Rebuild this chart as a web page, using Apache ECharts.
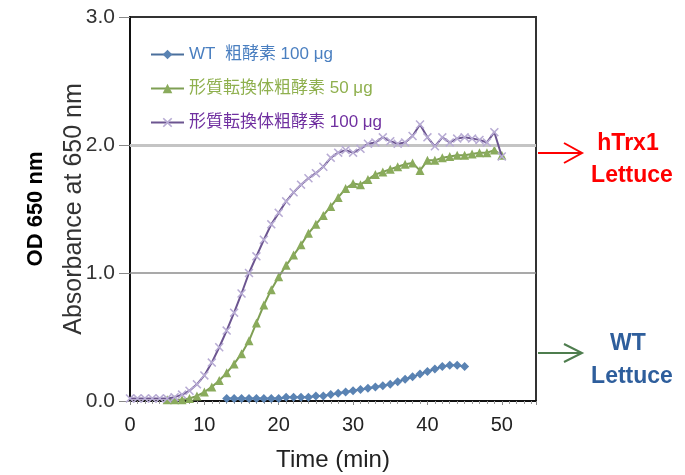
<!DOCTYPE html>
<html><head><meta charset="utf-8">
<script src="https://cdn.jsdelivr.net/npm/echarts@6/dist/echarts.min.js"></script>
<style>html,body{margin:0;padding:0;background:#fff}#c{width:685px;height:475px}</style>
</head><body><div id="c"></div>
<script>
var seriesNames = ['WT  粗酵素 100 μg', '形質転換体粗酵素 50 μg', '形質転換体粗酵素 100 μg'];
var xTicks = [0, 10, 20, 30, 40, 50];
var yTicks = [0, 1, 2, 3];

var wtTime = [13,14,15,16,17,18,19,20,21,22,23,24,25,26,27,28,29,30,31,32,33,34,35,36,37,38,39,40,41,42,43,44,45];
var wtVal  = [0.02,0.02,0.02,0.02,0.02,0.02,0.02,0.02,0.03,0.03,0.03,0.03,0.04,0.04,0.05,0.06,0.07,0.08,0.09,0.10,0.11,0.12,0.13,0.15,0.17,0.19,0.21,0.23,0.25,0.27,0.28,0.28,0.27];

var tr50Time = [5,6,7,8,9,10,11,12,13,14,15,16,17,18,19,20,21,22,23,24,25,26,27,28,29,30,31,32,33,34,35,36,37,38,39,40,41,42,43,44,45,46,47,48,49,50];
var tr50Val  = [0.01,0.01,0.01,0.02,0.04,0.07,0.11,0.16,0.22,0.29,0.37,0.47,0.61,0.75,0.87,0.97,1.06,1.14,1.22,1.31,1.38,1.45,1.52,1.59,1.66,1.70,1.69,1.73,1.77,1.79,1.81,1.83,1.85,1.86,1.80,1.88,1.88,1.90,1.91,1.92,1.92,1.93,1.94,1.94,1.96,1.92];

var tr100Time = [0,1,2,3,4,5,6,7,8,9,10,11,12,13,14,15,16,17,18,19,20,21,22,23,24,25,26,27,28,29,30,31,32,33,34,35,36,37,38,39,40,41,42,43,44,45,46,47,48,49,50];
var tr100Val  = [0.02,0.02,0.02,0.02,0.02,0.02,0.03,0.05,0.08,0.13,0.20,0.30,0.42,0.55,0.69,0.84,1.00,1.13,1.26,1.38,1.47,1.56,1.63,1.69,1.74,1.78,1.83,1.90,1.94,1.96,1.94,1.97,2.01,2.02,2.06,2.03,2.01,2.02,2.07,2.16,2.06,1.99,2.06,2.02,2.05,2.06,2.05,2.04,2.02,2.10,1.91];

var refLines = [1.0, 2.0];

function pairs(xs, ys){ return xs.map(function(x,i){ return [x, ys[i]]; }); }

var FONT = 'Arial, "Liberation Sans", "Noto Sans CJK JP", sans-serif';
var xSym = 'path://M0,1.2L1.2,0L5,3.8L8.8,0L10,1.2L6.2,5L10,8.8L8.8,10L5,6.2L1.2,10L0,8.8L3.8,5Z';

var chart = echarts.init(document.getElementById('c'));
chart.setOption({
  backgroundColor: '#fff',
  animation: false,
  textStyle: { fontFamily: FONT },
  grid: { left: 130, top: 17, right: 149, bottom: 74, show: true, borderColor: '#333', borderWidth: 2, backgroundColor: 'transparent', outerBoundsMode: 'none', containLabel: false },
  legend: {
    orient: 'vertical', left: 145, top: 41, itemGap: 17, itemWidth: 33, itemHeight: 12,
    textStyle: { fontFamily: FONT, fontSize: 17 },
    data: [
      { name: seriesNames[0], textStyle: { color: '#4a7fc0' } },
      { name: seriesNames[1], textStyle: { color: '#8fb04e' } },
      { name: seriesNames[2], textStyle: { color: '#7030a0' } }
    ]
  },
  xAxis: {
    type: 'value', min: 0, max: 54.6, interval: 10,
    name: 'Time (min)', nameLocation: 'middle', nameGap: 47, nameMoveOverlap: false,
    nameTextStyle: { fontSize: 24, color: '#222', fontFamily: FONT },
    axisLine: { lineStyle: { color: '#111', width: 2 } },
    axisTick: { show: true, length: 4, lineStyle: { color: '#888' } },
    minorTick: { show: true, splitNumber: 10, length: 3, lineStyle: { color: '#999' } },
    splitLine: { show: false },
    axisLabel: { fontSize: 20, color: '#222', margin: 14,
      formatter: function(v){ return xTicks.indexOf(v) >= 0 ? String(v) : ''; } }
  },
  yAxis: {
    type: 'value', min: 0, max: 3, interval: 1,
    name: 'Absorbance at 650 nm', nameLocation: 'middle', nameGap: 43, nameMoveOverlap: false,
    nameTextStyle: { fontSize: 25, color: '#333', fontFamily: FONT },
    axisLine: { show: true, lineStyle: { color: '#111', width: 2 } },
    axisTick: { show: true, length: 11, lineStyle: { color: '#888' } },
    splitLine: { show: false },
    axisLabel: { fontSize: 21, color: '#333', margin: 15,
      formatter: function(v){ return yTicks.indexOf(v) >= 0 ? v.toFixed(1) : ''; } }
  },
  series: [
    {
      name: seriesNames[0], type: 'line', data: pairs(wtTime, wtVal),
      symbol: 'diamond', symbolSize: 9, showAllSymbol: true,
      itemStyle: { color: '#5a83b3' }, lineStyle: { color: '#4a6f9c', width: 2 },
      markLine: {
        silent: true, symbol: 'none', label: { show: false },
        data: [
          { yAxis: refLines[0], lineStyle: { color: '#8c8c8c', width: 1.5, type: 'solid' } },
          { yAxis: refLines[1], lineStyle: { color: '#c4c4c4', width: 3, type: 'solid' } }
        ]
      },
      z: 3
    },
    {
      name: seriesNames[1], type: 'line', data: pairs(tr50Time, tr50Val),
      symbol: 'triangle', symbolSize: 9, showAllSymbol: true,
      itemStyle: { color: '#8aab5c' }, lineStyle: { color: '#7f9f54', width: 2 },
      z: 4
    },
    {
      name: seriesNames[2], type: 'line', data: pairs(tr100Time, tr100Val),
      symbol: xSym, symbolSize: 9, showAllSymbol: true,
      itemStyle: { color: '#b8acd4' }, lineStyle: { color: '#6c5590', width: 2 },
      z: 5
    }
  ],
  graphic: [
    { type: 'text', x: 36, y: 209, rotation: Math.PI / 2,
      style: { text: 'OD 650 nm', font: 'bold 22px ' + FONT, fill: '#000', textAlign: 'center', textVerticalAlign: 'middle' } },
    { type: 'line', shape: { x1: 538, y1: 153, x2: 582, y2: 153 }, style: { stroke: '#ff0000', lineWidth: 2 } },
    { type: 'polyline', shape: { points: [[564, 143], [582, 153], [564, 163]] }, style: { stroke: '#ff0000', lineWidth: 2, fill: null } },
    { type: 'text', x: 628, y: 144, style: { text: 'hTrx1', font: 'bold 23px ' + FONT, fill: '#ff0000', textAlign: 'center', textVerticalAlign: 'middle' } },
    { type: 'text', x: 632, y: 176, style: { text: 'Lettuce', font: 'bold 23px ' + FONT, fill: '#ff0000', textAlign: 'center', textVerticalAlign: 'middle' } },
    { type: 'line', shape: { x1: 538, y1: 353, x2: 582, y2: 353 }, style: { stroke: '#4e7d4e', lineWidth: 2 } },
    { type: 'polyline', shape: { points: [[564, 344], [582, 353], [564, 362]] }, style: { stroke: '#4e7d4e', lineWidth: 2, fill: null } },
    { type: 'text', x: 628, y: 344, style: { text: 'WT', font: 'bold 23px ' + FONT, fill: '#2e5e9c', textAlign: 'center', textVerticalAlign: 'middle' } },
    { type: 'text', x: 632, y: 377, style: { text: 'Lettuce', font: 'bold 23px ' + FONT, fill: '#2e5e9c', textAlign: 'center', textVerticalAlign: 'middle' } }
  ]
});
</script></body></html>
